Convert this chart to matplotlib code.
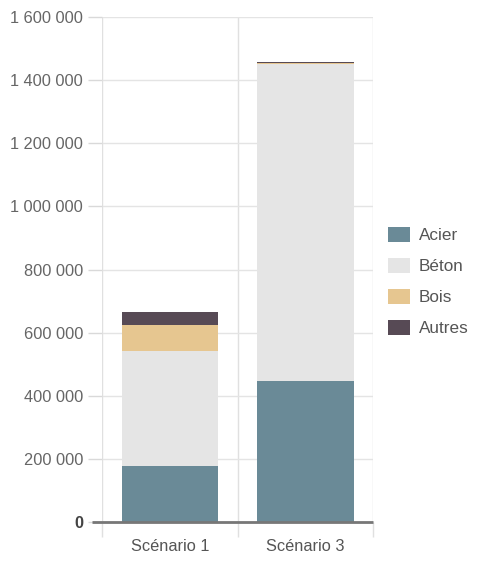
import matplotlib.pyplot as plt
import matplotlib.ticker as mticker
from matplotlib.patches import Patch
import numpy as np

plt.rcParams['font.family'] = ['Liberation Sans', 'DejaVu Sans']

scenarios = ["Scénario 1", "Scénario 3"]
materials = ["Acier", "Béton", "Bois", "Autres"]
acier = [176000, 447000]
beton = [366000, 1005000]
bois = [82000, 1000]
autres = [40000, 3000]
colors = ["#6a8a97", "#e5e5e5", "#e6c690", "#574a55"]

yticks = list(range(0, 1600001, 200000))

fig = plt.figure(figsize=(4.81, 5.63), dpi=100)
ax = fig.add_axes([0.213, 0.0728, 0.562, 0.897])

x = np.arange(len(scenarios))
bottom = np.zeros(len(scenarios))
for vals, col in zip([acier, beton, bois, autres], colors):
    ax.bar(x, vals, width=0.716, bottom=bottom, color=col, zorder=2)
    bottom += np.array(vals)

ax.set_xlim(-0.5, 1.5)
ax.set_ylim(0, 1600000)

ax.set_yticks(yticks)
ax.yaxis.set_major_formatter(mticker.FuncFormatter(lambda v, p: f"{int(v):,}".replace(",", " ")))
ax.tick_params(axis="y", length=10, width=1, color="#d9d9d9", labelsize=11.8,
               labelcolor="#666666", pad=4)
ax.grid(axis="y", color="#e4e4e4", linewidth=1, zorder=0)

ax.set_xticks(x)
ax.set_xticklabels(scenarios)
ax.set_xticks([-0.5, 0.5, 1.5], minor=True)
ax.tick_params(axis="x", which="major", length=0, labelsize=11.8, labelcolor="#555555", pad=12)
ax.tick_params(axis="x", which="minor", length=11, width=1, color="#e0e0e0")
ax.grid(axis="x", which="minor", color="#e0e0e0", linewidth=1, zorder=0)

for s in ["top", "left", "right", "bottom"]:
    ax.spines[s].set_visible(False)

# baseline, running out over the zero tick
ax.plot([-0.037, 1], [0, 0], transform=ax.get_yaxis_transform(), color="#777777",
        linewidth=2, clip_on=False, zorder=3, solid_capstyle="butt")

lbl = ax.get_yticklabels()[0]
lbl.set_fontweight("bold")
lbl.set_color("#444444")

handles = [Patch(facecolor=c, edgecolor="none") for c in colors]
fig.legend(handles, materials, loc="center left", bbox_to_anchor=(0.793, 0.5),
           frameon=False, fontsize=12.3, labelcolor="#555555",
           handlelength=1.3, handleheight=1.0, handletextpad=0.5,
           labelspacing=0.85, borderaxespad=0)

fig.savefig("out.png", dpi=100)
